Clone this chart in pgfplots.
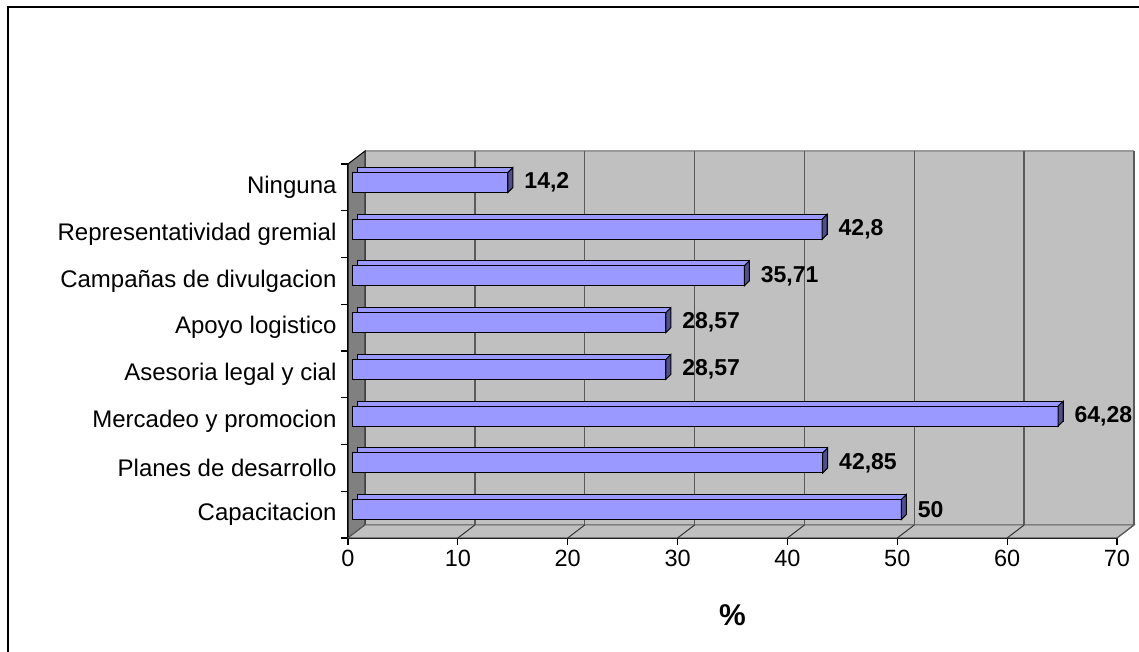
\documentclass[border=0pt]{standalone}
\usepackage{fontspec}
\setmainfont{Liberation Sans}
\usepackage{pgfplots}
\pgfplotsset{compat=1.18}
\definecolor{barface}{HTML}{9999FF}
\definecolor{barside}{HTML}{4F4F8F}
\definecolor{wall}{HTML}{C0C0C0}
\definecolor{sidewall}{HTML}{808080}
\definecolor{gridc}{HTML}{5A5A5A}
\pgfdeclareplotmark{side3d}{%
  \pgfpathmoveto{\pgfqpoint{0bp}{-10bp}}%
  \pgfpathlineto{\pgfqpoint{0bp}{10bp}}%
  \pgfpathlineto{\pgfqpoint{5bp}{15bp}}%
  \pgfpathlineto{\pgfqpoint{5bp}{-5bp}}%
  \pgfpathclose
  \pgfusepathqfillstroke}
\begin{document}
\begin{tikzpicture}
\useasboundingbox (0,0) rectangle (1139bp,652bp);
\draw[black, line width=1.5bp] (8bp,0) -- (8bp,645bp) -- (1139bp,645bp);
\begin{axis}[
  at={(348bp,114bp)}, anchor=south west,
  width=769bp, height=374bp, scale only axis,
  xmin=0, xmax=70, ymin=-0.5, ymax=7.5,
  clip=false,
  axis x line*=bottom, axis y line*=left,
  axis line style={black, line width=1.2bp},
  /pgf/number format/assume math mode=true,
  tick align=outside,
  major tick length=7bp,
  xtick={0,10,...,70},
  ytick={-0.5,0.5,...,7.5},
  yticklabels={Capacitacion, Planes de desarrollo, Mercadeo y promocion, Asesoria legal y cial, Apoyo logistico, Campañas de divulgacion, Representatividad gremial, Ninguna, {}},
  tick style={black, line width=1.2bp},
  xticklabel style={font=\fontsize{23.5bp}{28bp}\selectfont, yshift=-2bp},
  yticklabel style={font=\fontsize{24bp}{28bp}\selectfont, xshift=-1bp, yshift=23.4bp},
  xlabel={\textbf{\%}},
  xlabel style={font=\fontsize{30bp}{34bp}\selectfont, at={(axis description cs:0.5,0)}, anchor=center, yshift=-77bp},
]
\def\dx{17bp}\def\dy{13bp}
% back wall
\fill[wall] ([shift={(\dx,\dy)}]axis cs:0,-0.5) rectangle ([shift={(\dx,\dy)}]axis cs:70,7.5);
\draw[gray!80, line width=1.2bp] ([shift={(\dx,\dy)}]axis cs:0,7.5) -- ([shift={(\dx,\dy)}]axis cs:70,7.5);
% left wall
\filldraw[fill=sidewall, draw=black, line width=1bp] (axis cs:0,-0.5) -- (axis cs:0,7.5) -- ([shift={(\dx,\dy)}]axis cs:0,7.5) -- ([shift={(\dx,\dy)}]axis cs:0,-0.5) -- cycle;
% floor
\filldraw[fill=wall, draw=gridc, line width=1bp] (axis cs:0,-0.5) -- (axis cs:70,-0.5) -- ([shift={(\dx,\dy)}]axis cs:70,-0.5) -- ([shift={(\dx,\dy)}]axis cs:0,-0.5) -- cycle;
\pgfplotsinvokeforeach{10,20,...,60}{
  \draw[gridc, line width=1.3bp] ([shift={(\dx,\dy)}]axis cs:#1,-0.5) -- ([shift={(\dx,\dy)}]axis cs:#1,7.5);
  \draw[black!80, line width=1bp] (axis cs:#1,-0.5) -- ([shift={(\dx,\dy)}]axis cs:#1,-0.5);
}
\draw[gridc, line width=2bp] ([shift={(\dx,\dy)}]axis cs:70,-0.5) -- ([shift={(\dx,\dy)}]axis cs:70,7.5);
\draw[gridc, line width=1.2bp] (axis cs:70,-0.5) -- ([shift={(\dx,\dy)}]axis cs:70,-0.5);
% bars: top face (shifted copy)
\addplot[xbar, bar width=20bp, bar shift=0pt, fill=barface, draw=black, line width=1bp, xshift=9bp, yshift=10bp]
  coordinates {(50,0) (42.85,1) (64.28,2) (28.57,3) (28.57,4) (35.71,5) (42.8,6) (14.2,7)};
% bars: front face
\addplot[xbar, bar width=20bp, bar shift=0pt, fill=barface, draw=black, line width=1bp, xshift=4bp, yshift=5bp,
  point meta=explicit symbolic, nodes near coords,
  every node near coord/.append style={anchor=west, inner sep=0pt, xshift=16bp, font=\bfseries\fontsize{23bp}{27bp}\selectfont, black}]
  coordinates {(50,0) [50] (42.85,1) [42,85] (64.28,2) [64,28] (28.57,3) [28,57] (28.57,4) [28,57] (35.71,5) [35,71] (42.8,6) [42,8] (14.2,7) [14,2]};
% bars: side face
\addplot[only marks, mark=side3d, mark options={fill=barside, draw=black, line width=1bp}, xshift=4bp, yshift=5bp]
  coordinates {(50,0) (42.85,1) (64.28,2) (28.57,3) (28.57,4) (35.71,5) (42.8,6) (14.2,7)};
\end{axis}
\end{tikzpicture}
\end{document}
